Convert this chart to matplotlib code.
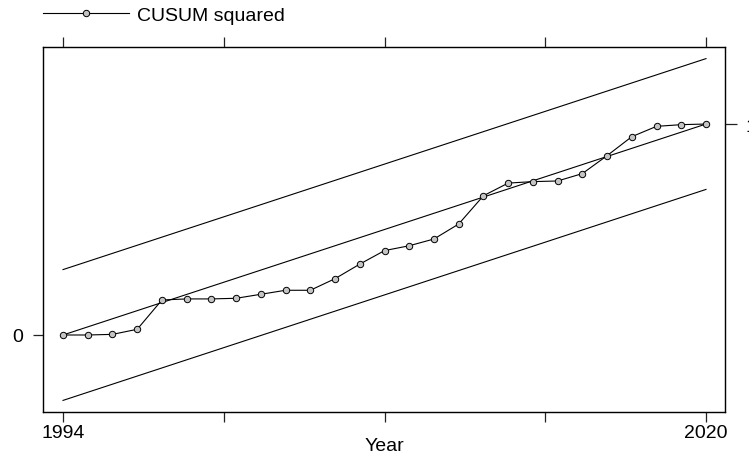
import matplotlib.pyplot as plt
from matplotlib.lines import Line2D

plt.rcParams['font.family'] = ['Liberation Sans', 'DejaVu Sans']

# CUSUM of squares
years = list(range(1994, 2021))
cusum_sq = [0.000, 0.000, 0.003, 0.027, 0.166, 0.171, 0.171, 0.174, 0.193,
            0.212, 0.212, 0.267, 0.336, 0.400, 0.423, 0.455, 0.526, 0.660,
            0.720, 0.727, 0.730, 0.765, 0.850, 0.940, 0.989, 0.997, 1.000]

# expected path and the significance band around it
band_years = [1994, 2020]
expected = [0.0, 1.0]
band_c = 0.31

xtick_pos = [1994, 2000.5, 2007, 2013.5, 2020]
xtick_labels = ['1994', '', '', '', '2020']

fig = plt.figure(figsize=(7.49, 4.56), dpi=100)
ax = fig.add_axes([0.0574, 0.0943, 0.9106, 0.8004])

ax.plot(band_years, [e + band_c for e in expected], color='black', lw=0.8)
ax.plot(band_years, expected, color='black', lw=0.8)
ax.plot(band_years, [e - band_c for e in expected], color='black', lw=0.8)
ax.plot(years, cusum_sq, color='black', lw=0.8, marker='o', markersize=4.6,
        markerfacecolor='#c4c4c4', markeredgecolor='black', markeredgewidth=0.7)

ax.set_xlim(1993.19, 2020.77)
ax.set_ylim(-0.365, 1.365)

for s in ax.spines.values():
    s.set_linewidth(0.9)
    s.set_color('#222222')

ax.set_xticks(xtick_pos)
ax.set_xticklabels(xtick_labels)
ax.set_yticks([0])
ax.set_yticklabels(['0'])
ax.tick_params(axis='both', length=7.5, width=0.9, labelsize=14, color='#222222')
ax.tick_params(axis='x', pad=1.5)
ax.tick_params(axis='y', pad=7)
ax.set_xlabel('Year', fontsize=14)
ax.xaxis.set_label_coords(0.5, -0.068)

ax_r = ax.twinx()
ax_r.set_ylim(ax.get_ylim())
ax_r.set_yticks([1])
ax_r.set_yticklabels(['1'])
ax_r.tick_params(axis='y', length=8.5, width=0.9, labelsize=14, pad=6, color='#222222')

ax_t = ax.twiny()
ax_t.set_xlim(ax.get_xlim())
ax_t.set_xticks(xtick_pos)
ax_t.set_xticklabels([])
ax_t.tick_params(axis='x', length=7, width=0.9, color='#222222')

handle = Line2D([], [], color='black', lw=0.8, marker='o', markersize=4.6,
                markerfacecolor='#c4c4c4', markeredgecolor='black', markeredgewidth=0.7)
ax.legend([handle], ['CUSUM squared'], loc='upper left',
          bbox_to_anchor=(43 / 749, 1 - 7 / 456), bbox_transform=fig.transFigure,
          frameon=False, fontsize=14, borderpad=0, borderaxespad=0,
          handlelength=4.4, handletextpad=0.45, numpoints=1)

fig.savefig('out.png', dpi=100)
